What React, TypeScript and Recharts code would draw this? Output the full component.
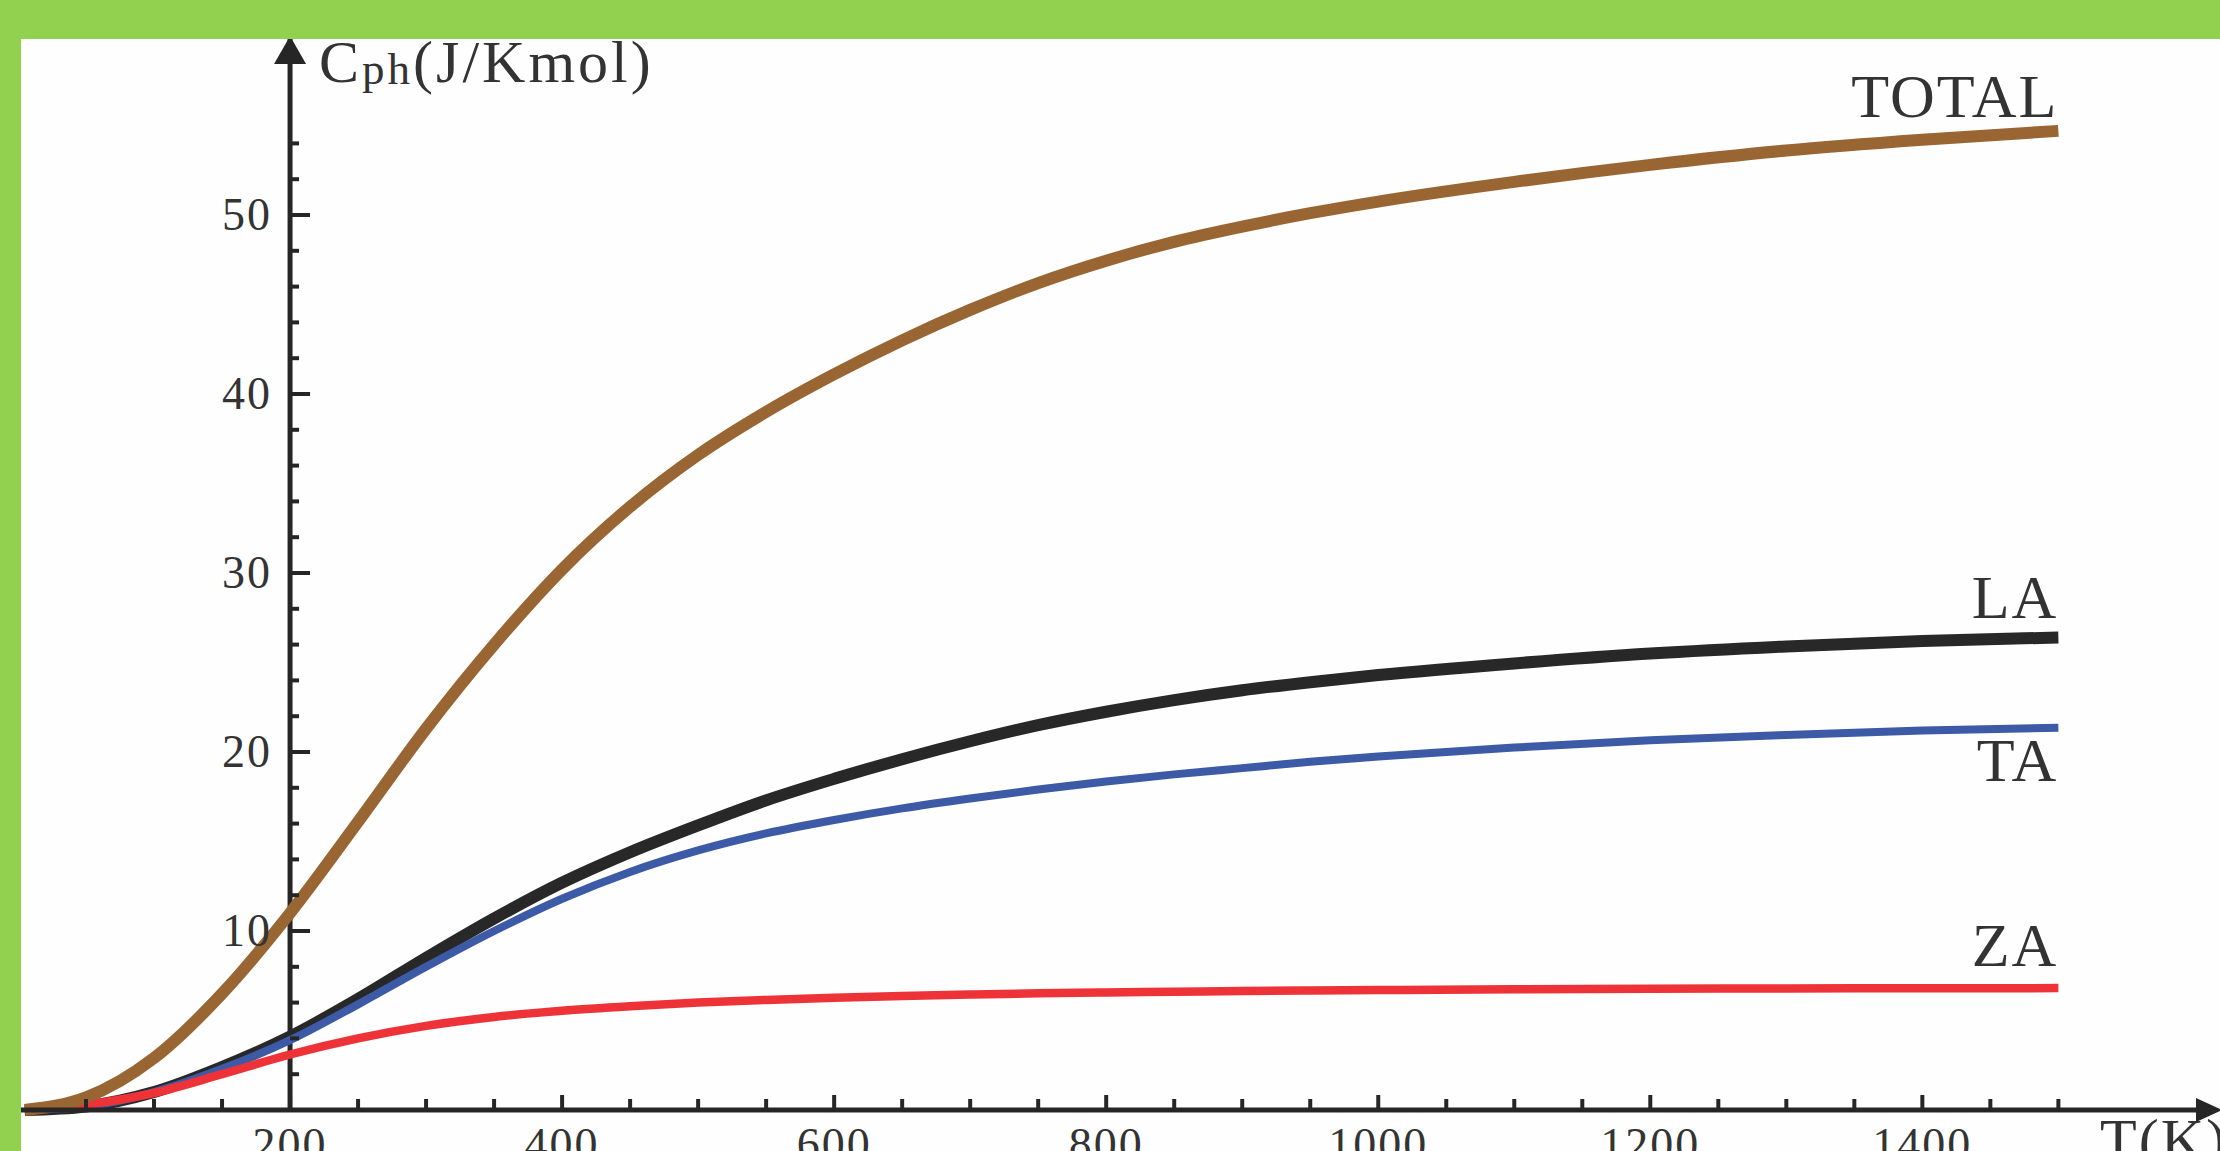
import React from 'react';
import { LineChart, Line, XAxis, YAxis, ReferenceLine } from 'recharts';

// temperature (K) and phonon heat capacity Cph (J/K mol) per branch
const temperatures = [5, 50, 100, 150, 200, 250, 300, 350, 400, 450, 500, 550, 600, 650, 700, 750, 800, 850, 900, 950, 1000, 1100, 1200, 1300, 1400, 1500];
const totalCp = [0, 0.7, 2.9, 6.5, 11.0, 16.1, 21.3, 26.0, 30.2, 33.7, 36.6, 39.0, 41.1, 43.0, 44.7, 46.2, 47.45, 48.5, 49.35, 50.1, 50.75, 51.85, 52.8, 53.6, 54.2, 54.7];
const laCp = [0, 0.2, 1.0, 2.4, 4.1, 6.2, 8.5, 10.7, 12.7, 14.4, 15.9, 17.3, 18.5, 19.6, 20.6, 21.5, 22.25, 22.9, 23.45, 23.9, 24.3, 24.95, 25.5, 25.9, 26.2, 26.4];
const taCp = [0, 0.2, 1.0, 2.3, 3.9, 5.9, 8.0, 10.0, 11.8, 13.3, 14.5, 15.45, 16.2, 16.85, 17.4, 17.9, 18.35, 18.75, 19.1, 19.45, 19.75, 20.25, 20.65, 20.95, 21.2, 21.35];
const zaCp = [0, 0.3, 0.95, 2.0, 3.1, 4.0, 4.7, 5.2, 5.55, 5.8, 6.0, 6.15, 6.27, 6.37, 6.45, 6.52, 6.57, 6.61, 6.65, 6.68, 6.7, 6.74, 6.77, 6.79, 6.8, 6.81];

const xTicks = [50, 100, 150, 200, 250, 300, 350, 400, 450, 500, 550, 600, 650, 700, 750, 800, 850, 900, 950, 1000, 1050, 1100, 1150, 1200, 1250, 1300, 1350, 1400, 1450, 1500];
const xLabelTicks = [200, 400, 600, 800, 1000, 1200, 1400];
const yTicks = [2, 4, 6, 8, 10, 12, 14, 16, 18, 20, 22, 24, 26, 28, 30, 32, 34, 36, 38, 40, 42, 44, 46, 48, 50, 52, 54];
const yLabelTicks = [10, 20, 30, 40, 50];

const data = temperatures.map((t, i) => ({
  t,
  total: totalCp[i],
  la: laCp[i],
  ta: taCp[i],
  za: zaCp[i],
}));

const W = 2220;
const H = 1151;
const MARGIN = { top: 36, right: 12, bottom: 0, left: 0 };
const Y_AXIS_W = 18;
const X_AXIS_H = 41;
const X_MAX = 1610;
const Y_MAX = 60;
const PLOT_W = W - MARGIN.left - MARGIN.right - Y_AXIS_W;
const AXIS_T = 200; // the vertical axis crosses at T = 200 K
const AXIS_X = MARGIN.left + Y_AXIS_W + (AXIS_T / X_MAX) * PLOT_W;
const AXIS_Y = H - X_AXIS_H;

const SERIF = '"Liberation Serif", "DejaVu Serif", serif';
const INK = '#333333';
const AXIS = '#262626';
const GREEN = '#92d050';

const XTick = (props: any) => {
  const { x, y, payload } = props;
  const major = xLabelTicks.includes(payload.value);
  return (
    <g>
      <line x1={x} x2={x} y1={y} y2={y - (major ? 15 : 11)} stroke={AXIS} strokeWidth={4} />
      {major && (
        <text x={x} y={y + 50} textAnchor="middle" fontFamily={SERIF} fontSize={46} fill={INK} letterSpacing={2}>
          {payload.value}
        </text>
      )}
    </g>
  );
};

const YTick = (props: any) => {
  const { y, payload } = props;
  const major = yLabelTicks.includes(payload.value);
  return (
    <g>
      <line x1={AXIS_X} x2={AXIS_X + (major ? 20 : 9)} y1={y} y2={y} stroke={AXIS} strokeWidth={4} />
      {major && (
        <text x={AXIS_X - 18} y={y + 15} textAnchor="end" fontFamily={SERIF} fontSize={46} fill={INK} letterSpacing={2}>
          {payload.value}
        </text>
      )}
    </g>
  );
};

const endLabel = (name: string, dy: number) => (p: any) => {
  if (p.index !== temperatures.length - 1) return <g />;
  return (
    <text x={p.x} y={p.y + dy} textAnchor="end" fontFamily={SERIF} fontSize={62} fill={INK} letterSpacing={2}>
      {name}
    </text>
  );
};

const YAxisDecor = () => (
  <g>
    <polygon points={`${AXIS_X},${MARGIN.top} ${AXIS_X - 16},${MARGIN.top + 28} ${AXIS_X + 16},${MARGIN.top + 28}`} fill={AXIS} />
    <text x={AXIS_X + 29} y={82} fontFamily={SERIF} fontSize={60} fill={INK} letterSpacing={3}>
      C<tspan fontSize={45} dy={2}>ph</tspan>
      <tspan dy={-2}>(J/Kmol)</tspan>
    </text>
  </g>
);

const XAxisDecor = () => (
  <g>
    <polygon points={`${W + 2},${AXIS_Y} ${W - 24},${AXIS_Y - 12} ${W - 24},${AXIS_Y + 12}`} fill={AXIS} />
    <text x={2100} y={1160} fontFamily={SERIF} fontSize={60} fill={INK} letterSpacing={2}>
      T(K)
    </text>
  </g>
);

export default function App() {
  return (
    <div style={{ position: 'absolute', left: 0, top: 0, width: W, height: H, background: '#fefefe', overflow: 'hidden' }}>
      <LineChart width={W} height={H} data={data} margin={MARGIN}>
        <XAxis
          type="number"
          dataKey="t"
          domain={[0, X_MAX]}
          ticks={xTicks}
          interval={0}
          height={X_AXIS_H}
          tickSize={0}
          tickMargin={0}
          tickLine={false}
          axisLine={{ stroke: AXIS, strokeWidth: 5 }}
          tick={(p: any) => <XTick {...p} />}
          label={{ content: () => <XAxisDecor /> }}
        />
        <YAxis
          type="number"
          domain={[0, Y_MAX]}
          ticks={yTicks}
          interval={0}
          width={Y_AXIS_W}
          tickSize={0}
          tickMargin={0}
          tickLine={false}
          axisLine={false}
          tick={(p: any) => <YTick {...p} />}
        />
        <ReferenceLine x={AXIS_T} stroke={AXIS} strokeWidth={5} label={{ content: () => <YAxisDecor /> }} />
        <Line type="monotone" dataKey="la" stroke="#282828" strokeWidth={12} dot={false} isAnimationActive={false} label={endLabel('LA', -19)} />
        <Line type="monotone" dataKey="ta" stroke="#3c5aa6" strokeWidth={8} dot={false} isAnimationActive={false} label={endLabel('TA', 53)} />
        <Line type="monotone" dataKey="za" stroke="#ee3338" strokeWidth={8.5} dot={false} isAnimationActive={false} label={endLabel('ZA', -22)} />
        <Line type="monotone" dataKey="total" stroke="#996633" strokeWidth={12} dot={false} isAnimationActive={false} label={endLabel('TOTAL', -14)} />
      </LineChart>
      <div style={{ position: 'absolute', left: 0, top: 0, width: W, height: 39, background: GREEN }} />
      <div style={{ position: 'absolute', left: 0, top: 0, width: 21, height: H, background: GREEN }} />
    </div>
  );
}
